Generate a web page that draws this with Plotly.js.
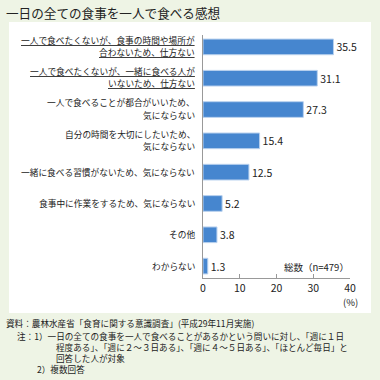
<!DOCTYPE html>
<html>
<head>
<meta charset="utf-8">
<script src="https://cdn.plot.ly/plotly-3.0.1.min.js"></script>
<style>html,body{margin:0;padding:0;background:#eef4e5;}#chart{width:380px;height:380px;}</style>
</head>
<body>
<div id="chart"></div>
<script>
// ---- data ----
const categories = [
  "一人で食べたくないが、食事の時間や場所が<br>合わないため、仕方ない",
  "一人で食べたくないが、一緒に食べる人が<br>いないため、仕方ない",
  "一人で食べることが都合がいいため、<br>気にならない",
  "自分の時間を大切にしたいため、<br>気にならない",
  "一緒に食べる習慣がないため、気にならない",
  "食事中に作業をするため、気にならない",
  "その他",
  "わからない"
];
const underlined = [true, true, false, false, false, false, false, false];
const values = [35.5, 31.1, 27.3, 15.4, 12.5, 5.2, 3.8, 1.3];
const xTickVals = [0, 10, 20, 30, 40];
const xTickText = ["0", "10", "20", "30", "40"];
const titleText = "一日の全ての食事を一人で食べる感想";
const totalText = "総数（n=479）";
const unitText = "(%)";
const noteLines = [
  "資料：農林水産省「食育に関する意識調査」(平成29年11月実施)",
  "注：1）一日の全ての食事を一人で食べることがあるかという問いに対し、「週に１日",
  "程度ある」、「週に２～３日ある」、「週に４～５日ある」、「ほとんど毎日」と",
  "回答した人が対象",
  "2）複数回答"
];

// ---- layout geometry ----
const W = 380, H = 380;
const L = 203, R = 30, T = 35, B = 102;
const pw = W - L - R, ph = H - T - B;
const px = x => (x - L) / pw;
const py = y => (H - B - y) / ph;
const FONT = "Noto Sans CJK JP, Noto Sans, sans-serif";

const ann = [];
ann.push({text: titleText, xref: "paper", yref: "paper", x: px(4), y: py(12),
  xanchor: "left", yanchor: "middle", showarrow: false,
  font: {family: FONT, size: 12.6, color: "#222"}});
ann.push({text: totalText, xref: "paper", yref: "paper", x: px(351), y: py(267),
  xanchor: "right", yanchor: "middle", showarrow: false,
  font: {family: FONT, size: 9.5, color: "#222"}});
ann.push({text: unitText, xref: "paper", yref: "paper", x: px(350), y: py(302),
  xanchor: "center", yanchor: "middle", showarrow: false,
  font: {family: FONT, size: 9.5, color: "#222"}});
const noteX = [4, 15, 54, 54, 35];
const noteY = [323, 336, 347, 358, 369];
noteLines.forEach((t, i) => {
  ann.push({text: t, xref: "paper", yref: "paper", x: px(noteX[i]), y: py(noteY[i]),
    xanchor: "left", yanchor: "middle", showarrow: false,
    font: {family: FONT, size: 8.6, color: "#222"}});
});
// category labels, one annotation per line
categories.forEach((c, i) => {
  const lines = c.split("<br>");
  const n = lines.length;
  lines.forEach((ln, k) => {
    ann.push({text: underlined[i] ? "<u>" + ln + "</u>" : ln,
      xref: "paper", yref: "y", x: px(197), y: c,
      yshift: -((k - (n - 1) / 2) * 12.2) + (n > 1 ? 0.5 : 0),
      xanchor: "right", yanchor: "middle", showarrow: false,
      font: {family: FONT, size: 8.7, color: "#222"}});
  });
});

const trace = {
  type: "bar", orientation: "h",
  x: values, y: categories,
  width: 0.5,
  marker: {color: "#4686cf", line: {color: "#b9d1ee", width: 1}},
  text: values.map(v => v.toFixed(1)),
  textposition: "outside",
  cliponaxis: false,
  textfont: {family: FONT, size: 10.5, color: "#222"},
  hoverinfo: "none"
};

const layout = {
  width: W, height: H,
  margin: {l: L, r: R, t: T, b: B, pad: 0},
  paper_bgcolor: "#eef4e5",
  plot_bgcolor: "rgba(0,0,0,0)",
  showlegend: false,
  xaxis: {
    range: [0, 40], tickvals: xTickVals, ticktext: xTickText,
    showgrid: false, zeroline: false,
    showline: true, linecolor: "#999", linewidth: 1,
    ticks: "inside", ticklen: 4, tickcolor: "#999",
    tickfont: {family: FONT, size: 10.5, color: "#222"},
    fixedrange: true
  },
  yaxis: {
    type: "category", range: [7.38, -0.38],
    showgrid: false, zeroline: false,
    showline: true, linecolor: "#999", linewidth: 1,
    ticks: "", showticklabels: false,
    fixedrange: true
  },
  shapes: [{
    type: "rect", xref: "paper", yref: "paper", layer: "below",
    x0: px(9), x1: px(371), y0: py(313), y1: py(22),
    fillcolor: "#ffffff", line: {width: 0}
  }],
  annotations: ann
};

Plotly.newPlot("chart", [trace], layout, {displayModeBar: false, staticPlot: true});
</script>
</body>
</html>
